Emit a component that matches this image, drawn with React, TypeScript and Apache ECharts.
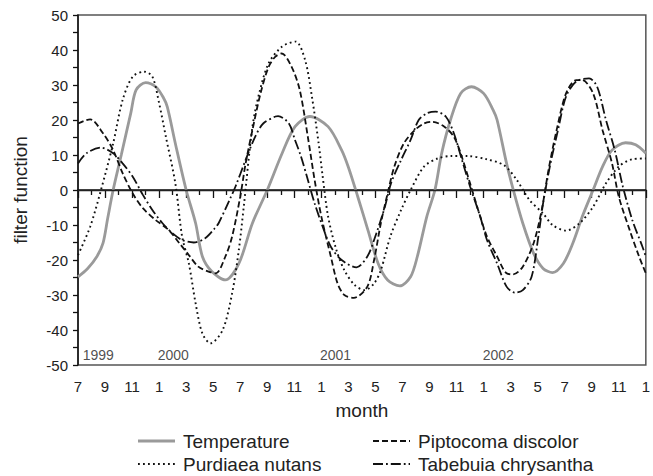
import React, { useEffect, useRef } from "react";
import * as echarts from "echarts";

// month index 0 = July 1999, 42 = January 2003
const temperature: [number, number][] = [
  [0, -24.8], [0.7, -22.5], [1.4, -19], [1.85, -15.2], [2.2, -8], [2.6, 0], [3.2, 10], [3.9, 21.9],
  [4.3, 28.6], [5.0, 30.7], [5.75, 29.5], [6.3, 26.5], [6.6, 23.8], [7.2, 13.3], [8.0, 0], [8.7, -9.5],
  [9.2, -19], [9.9, -23.3], [10.9, -25.7], [11.9, -21], [12.9, -9.5], [14.0, 0], [15.1, 10.5],
  [16.05, 18.1], [17.15, 21], [18.5, 18.1], [19.5, 11.4], [20.0, 6.5], [20.7, -2], [21.44, -11.4],
  [22.2, -21], [22.9, -25.7], [23.8, -27.4], [24.6, -24.8], [25.1, -19], [25.8, -7.6], [26.4, 0],
  [26.9, 10.5], [27.55, 20], [28.3, 27.6], [29.1, 29.5], [30.0, 27.6], [30.7, 22.9], [31.0, 20],
  [31.7, 7.6], [32.2, 0], [32.9, -9.5], [33.7, -18.1], [34.4, -22.4], [35.1, -23.6], [35.9, -21],
  [36.6, -15.2], [37.3, -7.6], [38.1, 0], [38.8, 6.7], [39.5, 11.4], [40.5, 13.5], [41.25, 12.9],
  [42, 10.5],
];

const piptocoma: [number, number][] = [
  [0, 19], [0.9, 20.2], [1.85, 16.2], [2.6, 11.4], [3.3, 4.8], [4.05, -1], [4.8, -5.2], [5.75, -8.6],
  [6.7, -11.4], [7.5, -15.2], [8.2, -18.6], [8.9, -21.9], [9.66, -23.3], [10.2, -23.8], [10.9, -19],
  [11.4, -13.3], [12.0, -1.9], [12.4, 7.6], [12.9, 17.1], [13.5, 27.6], [14.1, 35.2], [14.6, 38.1],
  [15.07, 39], [15.8, 35.2], [16.4, 28.6], [17.0, 15.2], [17.5, 2.9], [18.0, -7.6], [18.7, -19],
  [19.2, -26.7], [19.7, -30], [20.4, -30.8], [21.4, -27.6], [21.9, -20], [22.4, -9.5], [22.9, -1],
  [23.4, 6.7], [24.1, 13.3], [24.9, 17.1], [25.6, 19], [26.2, 19.5], [27.1, 18.1], [27.8, 15.2],
  [28.3, 10.5], [29.0, 1.9], [29.75, -7.6], [30.25, -13.3], [31.0, -19], [31.7, -23.8], [32.2, -24.1],
  [32.9, -21.9], [33.7, -15.2], [34.3, -5.7], [34.8, 5.7], [35.4, 17.1], [36.1, 27.6], [36.85, 31.4],
  [37.3, 31.4], [38.1, 27.6], [38.8, 17.1], [39.5, 7.6], [40.0, -1.9], [40.8, -11.4], [41.5, -19],
  [42, -23.8],
];

const purdiaea: [number, number][] = [
  [0, -18.6], [0.9, -10.5], [1.7, 0], [2.6, 13.3], [3.3, 25.7], [4.05, 32.4], [4.9, 33.8], [5.5, 32.4],
  [6.0, 24.8], [6.5, 15.2], [7.2, 1.9], [7.7, -13.3], [8.2, -21], [8.7, -32.4], [9.2, -41], [9.8, -43.8],
  [10.7, -40], [11.4, -29.5], [11.9, -17], [12.26, -4.8], [12.9, 18], [13.4, 27.6], [14.1, 36.2],
  [15.1, 41], [16.1, 42.4], [16.8, 37.1], [17.3, 26.7], [17.8, 13.3], [18.1, 3.8], [18.5, -7.6],
  [19.1, -17], [19.7, -22.9], [20.45, -27.1], [21.2, -28.6], [21.9, -26.7], [22.4, -22.9], [23.1, -13.3],
  [23.9, -5.7], [24.6, 0], [25.6, 6.7], [26.6, 9], [27.6, 9.7], [28.8, 9.7], [30.2, 8.8], [31.5, 7.1],
  [32.45, 2.9], [33.4, -2.9], [34.4, -6.7], [35.1, -10], [36.1, -11.6], [37.1, -9.5], [38.1, -4.8],
  [39.05, 1.9], [40, 6.7], [41, 8.8], [42, 9],
];

const tabebuia: [number, number][] = [
  [0, 7.6], [0.63, 10.5], [1.7, 12.1], [2.6, 10.5], [3.3, 7.6], [4.05, 3.8], [4.8, -1.4], [5.5, -5.7],
  [6.25, -9.5], [7.0, -12.4], [7.7, -14.3], [8.56, -15], [9.4, -13.8], [10.1, -11], [10.4, -9.5],
  [11.2, -2.9], [11.65, 1], [12.4, 8.6], [13.1, 15.2], [13.7, 19], [14.6, 21], [14.8, 21.1], [15.6, 19],
  [16.05, 14.3], [16.5, 9.5], [17.0, 2.9], [17.5, -3.8], [18.1, -10.5], [18.7, -16.2], [19.5, -20],
  [20.6, -22.1], [21.4, -19], [21.9, -14.3], [22.7, -4.8], [23.15, 1.9], [23.9, 8.6], [24.6, 14.3],
  [25.2, 20], [25.8, 21.9], [26.45, 22.4], [27.2, 21], [27.8, 16.2], [28.4, 8.6], [29.0, 1], [29.75, -7.6],
  [30.25, -14.3], [31.0, -21], [31.7, -27.6], [32.3, -29.3], [32.9, -28.6], [33.55, -24.8], [34.05, -13.3],
  [34.4, -3.8], [34.9, 6.7], [35.5, 17.1], [36.1, 26.7], [36.85, 31], [37.8, 31.9], [38.4, 29.5],
  [39.05, 20], [39.7, 11.4], [40.3, 1], [41.0, -8.6], [41.75, -16.2], [42, -19],
];

const yearLabels: [number, number, string][] = [
  [0.35, -47, "1999"],
  [5.9, -47, "2000"],
  [17.9, -47, "2001"],
  [29.93, -47, "2002"],
];

const seriesNames = ["Temperature", "Piptocoma discolor", "Purdiaea nutans", "Tabebuia chrysantha"];

const FONT = "'Liberation Sans', Arial, Helvetica, sans-serif";

const STYLES: Record<string, { color: string; width: number; dash: number[] | null }> = {
  "Temperature": { color: "#9a9a9a", width: 2.8, dash: null },
  "Piptocoma discolor": { color: "#111", width: 1.8, dash: [6, 3] },
  "Purdiaea nutans": { color: "#111", width: 1.9, dash: [1.8, 3.2] },
  "Tabebuia chrysantha": { color: "#111", width: 1.8, dash: [10, 3, 1.8, 3] },
};

export default function App() {
  const ref = useRef<HTMLDivElement>(null);
  useEffect(() => {
    if (!ref.current) return;
    const chart = echarts.init(ref.current, undefined, { renderer: "svg" });

    const dataMap: Record<string, [number, number][]> = {
      "Temperature": temperature,
      "Piptocoma discolor": piptocoma,
      "Purdiaea nutans": purdiaea,
      "Tabebuia chrysantha": tabebuia,
    };

    // legend drawn as graphic (2 x 2 layout)
    const legendSlots = [
      { x: 138, y: 441 },
      { x: 373, y: 441 },
      { x: 138, y: 464 },
      { x: 373, y: 464 },
    ];
    const legendGraphics: any[] = [];
    seriesNames.forEach((name, i) => {
      const s = STYLES[name];
      const slot = legendSlots[i];
      legendGraphics.push({
        type: "line",
        silent: true,
        shape: { x1: slot.x, y1: slot.y, x2: slot.x + 37, y2: slot.y },
        style: {
          stroke: s.color,
          lineWidth: name === "Temperature" ? 3 : s.width,
          lineDash: s.dash || undefined,
        },
      });
      legendGraphics.push({
        type: "text",
        silent: true,
        x: slot.x + 45,
        y: slot.y,
        style: {
          text: name,
          fontSize: 19,
          fontFamily: FONT,
          fill: "#222",
          textVerticalAlign: "middle",
          verticalAlign: "middle",
        },
      });
    });

    chart.setOption({
      animation: false,
      backgroundColor: "#fff",
      textStyle: { fontFamily: FONT },
      grid: { left: 78, right: 3, top: 15, bottom: 111, show: true, borderColor: "#555", borderWidth: 1.5 },
      graphic: legendGraphics,
      xAxis: {
        type: "value",
        min: 0,
        max: 42,
        interval: 2,
        name: "month",
        nameLocation: "middle",
        nameGap: 36,
        nameTextStyle: { fontSize: 19, color: "#222", fontFamily: FONT },
        axisLine: { show: true, lineStyle: { color: "#111", width: 1.5 } },
        axisTick: { show: true, length: 8, lineStyle: { color: "#111", width: 1.3 } },
        minorTick: { show: true, splitNumber: 2, length: 5, lineStyle: { color: "#111", width: 1.3 } },
        splitLine: { show: false },
        axisLabel: {
          fontSize: 15,
          color: "#222",
          margin: 14,
          showMaxLabel: true,
          showMinLabel: true,
          formatter: (v: number) => String(((6 + Math.round(v)) % 12) + 1),
        },
      },
      yAxis: {
        type: "value",
        min: -50,
        max: 50,
        interval: 10,
        name: "filter function",
        nameLocation: "middle",
        nameGap: 48,
        nameTextStyle: { fontSize: 19, color: "#222", fontFamily: FONT },
        axisLine: { show: true, lineStyle: { color: "#111", width: 1.5 } },
        axisTick: { show: true, length: 5, lineStyle: { color: "#111", width: 1.3 } },
        minorTick: { show: true, splitNumber: 2, length: 5, lineStyle: { color: "#111", width: 1.3 } },
        splitLine: { show: false },
        axisLabel: { fontSize: 15, color: "#222", margin: 10 },
      },
      series: [
        {
          name: "zero",
          type: "line",
          data: [],
          silent: true,
          markLine: {
            silent: true,
            symbol: "none",
            label: { show: false },
            lineStyle: { color: "#222", width: 1.3, type: "solid" },
            data: [{ yAxis: 0 }],
          },
        },
        ...seriesNames.map((name) => {
          const s = STYLES[name];
          return {
            name,
            type: "line",
            data: dataMap[name],
            smooth: 0.3,
            showSymbol: false,
            symbol: "none",
            silent: true,
            color: s.color,
            lineStyle: { color: s.color, width: s.width, type: s.dash ? s.dash : "solid" },
            z: name === "Temperature" ? 2 : 3,
          };
        }),
        {
          name: "years",
          type: "scatter",
          data: yearLabels,
          symbolSize: 0,
          silent: true,
          label: {
            show: true,
            position: [0, 0],
            align: "left",
            verticalAlign: "middle",
            fontSize: 14,
            color: "#222",
            fontFamily: FONT,
            formatter: (p: any) => p.data[2],
          },
        },
      ],
    });
    return () => chart.dispose();
  }, []);
  return (
    <div
      ref={ref}
      style={{ position: "fixed", left: 0, top: 0, width: 653, height: 476, background: "#fff" }}
    />
  );
}
